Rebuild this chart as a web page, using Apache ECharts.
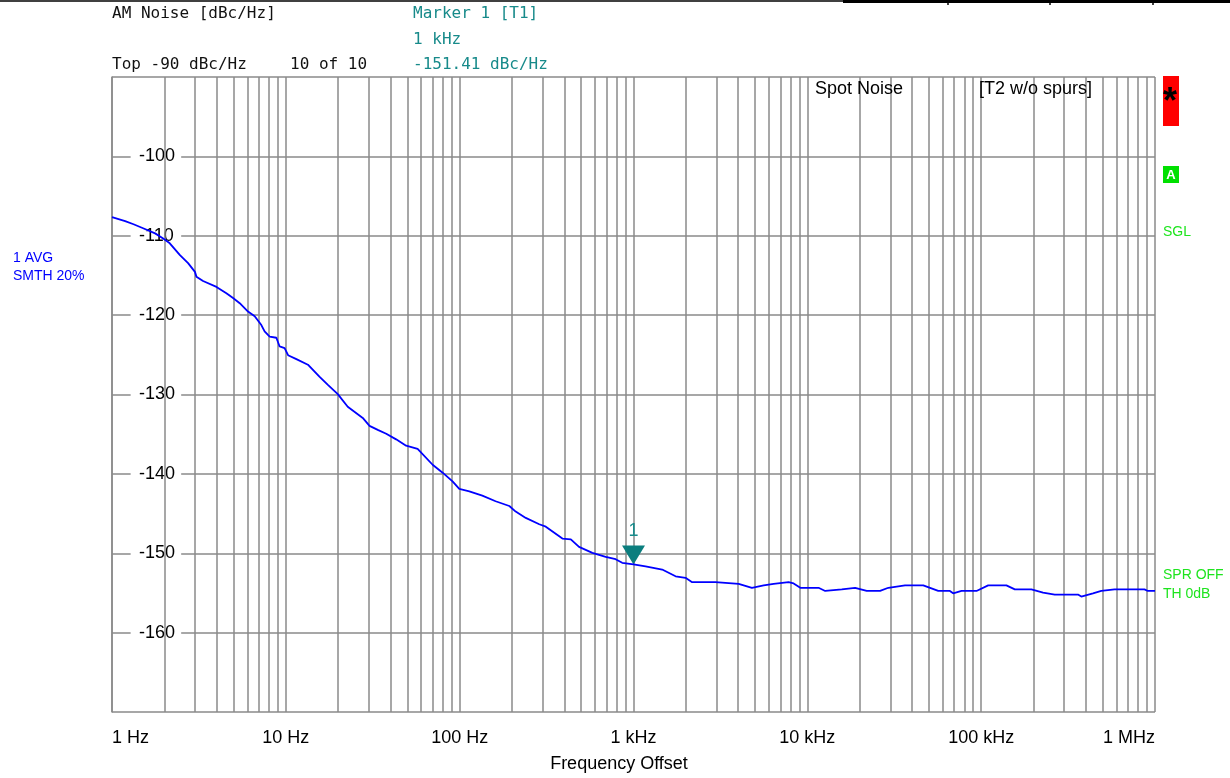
<!DOCTYPE html>
<html><head><meta charset="utf-8">
<script src="https://cdn.jsdelivr.net/npm/echarts@6/dist/echarts.min.js"></script>
<style>html,body{margin:0;padding:0;background:#fff}#c{width:1230px;height:778px}</style>
</head><body><div id="c"></div>
<script>
// ---- data ----
const freqs = [1,1.19,1.33,1.51,1.77,1.97,2.15,2.46,2.74,3.0,3.06,3.34,3.99,4.55,4.97,5.43,6.06,6.62,7.23,7.55,8.07,8.82,9.21,9.84,
  10.3,11.5,13.4,15.6,17.4,19.9,22.7,27.7,30.3,33.8,37.8,43.1,49.2,57.3,69.9,79.8,91.0,99.5,
  113.6,135,161,193,210,240,287,313,390,436,486,580,692,789,861,
  1000,1173,1462,1746,1992,2174,2960,3023,4028,4120,4800,5610,6400,7800,8340,9110,
  11600,12670,15780,18830,21960,26210,29250,36480,46450,56640,66100,69000,77100,94000,
  109700,139700,156200,194500,227000,265000,360500,376700,439800,491000,585000,870000,910000,1000000];
const noise = [-107.65,-108.15,-108.55,-109.05,-109.7,-110.35,-110.95,-112.45,-113.45,-114.55,-115.15,-115.7,-116.45,-117.25,-117.85,-118.5,-119.55,-120.15,-121.25,-122.05,-122.7,-122.85,-123.95,-124.15,
  -125.05,-125.55,-126.25,-127.75,-128.75,-129.95,-131.55,-132.95,-133.95,-134.45,-134.95,-135.65,-136.45,-136.85,-138.85,-139.85,-140.95,-141.9,
  -142.2,-142.75,-143.45,-144.05,-144.75,-145.55,-146.35,-146.65,-148.15,-148.25,-149.2,-149.95,-150.45,-150.75,-151.2,
  -151.41,-151.65,-152.05,-152.9,-153.1,-153.65,-153.65,-153.85,-153.85,-154.05,-154.35,-154.05,-153.85,-153.65,-153.8,-154.35,
  -154.35,-154.75,-154.55,-154.35,-154.75,-154.75,-154.35,-154.05,-154.05,-154.75,-154.75,-155.05,-154.75,-154.75,
  -154.05,-154.05,-154.55,-154.55,-154.95,-155.2,-155.2,-155.45,-155.05,-154.75,-154.55,-154.55,-154.75,-154.75];
const yTickValues = [-100,-110,-120,-130,-140,-150,-160];
const xTickLabels = ['1 Hz','10 Hz','100 Hz','1 kHz','10 kHz','100 kHz','1 MHz'];
const markerFreq = 1000;
const markerValue = -151.41;
const markerName = '1';

// ---- layout / style ----
const X_MIN = 1, X_MAX = 1e6, Y_MIN = -170, Y_MAX = -90;
const GRID = '#8a8a8a';
const TEAL = '#178a8a';
const GREEN = '#1ee41e';
const LBL_GAP = [1.28, 2.5];   // gap in horizontal grid lines behind the y labels

const vLines = [];
for (let d = 1; d < X_MAX; d *= 10) for (let m = 1; m <= 9; m++) vLines.push({xAxis: d * m});
vLines.push({xAxis: X_MAX});
const hLines = [];
hLines.push([{coord: [X_MIN, Y_MAX]}, {coord: [X_MAX, Y_MAX]}]);
hLines.push([{coord: [X_MIN, Y_MIN]}, {coord: [X_MAX, Y_MIN]}]);
yTickValues.forEach(v => {
  hLines.push([{coord: [X_MIN, v]}, {coord: [LBL_GAP[0], v]}]);
  hLines.push([{coord: [LBL_GAP[1], v]}, {coord: [X_MAX, v]}]);
});

const HDR = "16px 'DejaVu Sans Mono'";
const SANS = "'Liberation Sans', Arial, sans-serif";
function txt(x, y, s, fill, font, align) {
  return {type: 'text', x: x, y: y, silent: true, z: 10,
    style: {text: s, fill: fill, font: font, align: align || 'left', verticalAlign: 'middle',
            textAlign: align || 'left', textVerticalAlign: 'middle'}};
}

const chart = echarts.init(document.getElementById('c'), null, {renderer: 'canvas'});
chart.setOption({
  animation: false,
  backgroundColor: '#fff',
  grid: {left: 112, top: 77, width: 1043, height: 635, containLabel: false},
  xAxis: {
    type: 'log', logBase: 10, min: X_MIN, max: X_MAX, splitNumber: 6,
    axisLine: {show: false}, axisTick: {show: false}, splitLine: {show: false},
    axisLabel: {
      margin: 17, color: '#000', fontFamily: SANS, fontSize: 18,
      alignMinLabel: 'left', alignMaxLabel: 'right',
      formatter: v => xTickLabels[Math.round(Math.log10(v))] || ''
    }
  },
  yAxis: {
    type: 'value', min: Y_MIN, max: Y_MAX, interval: 10,
    axisLine: {show: true, lineStyle: {color: GRID, width: 1.5}},
    axisTick: {show: false}, splitLine: {show: false},
    axisLabel: {
      inside: true, margin: 27, color: '#000', fontFamily: SANS, fontSize: 18,
      formatter: v => (yTickValues.indexOf(v) >= 0 ? String(v) : '')
    }
  },
  series: [{
    type: 'line',
    data: freqs.map((f, i) => [f, noise[i]]),
    showSymbol: false, smooth: false, z: 5,
    lineStyle: {color: '#0000ff', width: 1.8},
    markLine: {
      silent: true, symbol: 'none', animation: false, z: 1,
      label: {show: false},
      lineStyle: {color: GRID, width: 1.5, type: 'solid'},
      emphasis: {disabled: true},
      data: vLines.concat(hLines)
    },
    markPoint: {
      silent: true, animation: false,
      data: [{coord: [markerFreq, markerValue], name: markerName}],
      symbol: 'triangle', symbolSize: [23, 19], symbolRotate: 180, symbolOffset: [0, '-50%'],
      itemStyle: {color: '#0b7e7e'},
      label: {show: true, position: 'top', distance: 5, formatter: () => markerName,
              color: TEAL, fontFamily: SANS, fontSize: 18}
    }
  }],
  graphic: [
    // top border line
    {type: 'line', silent: true, shape: {x1: 0, y1: 1, x2: 843, y2: 1}, style: {stroke: '#000', lineWidth: 1.5}},
    {type: 'line', silent: true, shape: {x1: 843, y1: 1.5, x2: 1230, y2: 1.5}, style: {stroke: '#000', lineWidth: 3}},
    {type: 'line', silent: true, shape: {x1: 948, y1: 1, x2: 948, y2: 5}, style: {stroke: '#000', lineWidth: 1.5}},
    {type: 'line', silent: true, shape: {x1: 1050, y1: 1, x2: 1050, y2: 5}, style: {stroke: '#000', lineWidth: 1.5}},
    {type: 'line', silent: true, shape: {x1: 1153, y1: 1, x2: 1153, y2: 5}, style: {stroke: '#000', lineWidth: 1.5}},
    // header
    txt(112, 14, 'AM Noise [dBc/Hz]', '#111', HDR),
    txt(413, 14, 'Marker 1 [T1]', TEAL, HDR),
    txt(413, 40, '1 kHz', TEAL, HDR),
    txt(112, 65, 'Top -90 dBc/Hz', '#111', HDR),
    txt(290, 65, '10 of 10', '#111', HDR),
    txt(413, 65, '-151.41 dBc/Hz', TEAL, HDR),
    // in-plot annotations
    txt(815, 89, 'Spot Noise', '#000', "18px " + SANS),
    txt(979, 89, '[T2 w/o spurs]', '#000', "18px " + SANS),
    // left trace info
    txt(13, 258, '1 AVG', '#0000ff', "14px " + SANS),
    txt(13, 276, 'SMTH 20%', '#0000ff', "14px " + SANS),
    // right side status
    {type: 'rect', silent: true, shape: {x: 1163, y: 76, width: 16, height: 50}, style: {fill: '#ff0000'}},
    txt(1170, 103, '*', '#000', "bold 36px " + SANS, 'center'),
    {type: 'rect', silent: true, shape: {x: 1163, y: 166, width: 16, height: 17}, style: {fill: '#00e000'}},
    txt(1171, 175, 'A', '#fff', "bold 13px " + SANS, 'center'),
    txt(1163, 232, 'SGL', GREEN, "14px " + SANS),
    txt(1163, 575, 'SPR OFF', GREEN, "14px " + SANS),
    txt(1163, 594, 'TH 0dB', GREEN, "14px " + SANS),
    // x axis title
    txt(619, 764, 'Frequency Offset', '#000', "18px " + SANS, 'center')
  ]
});
</script>
</body></html>
